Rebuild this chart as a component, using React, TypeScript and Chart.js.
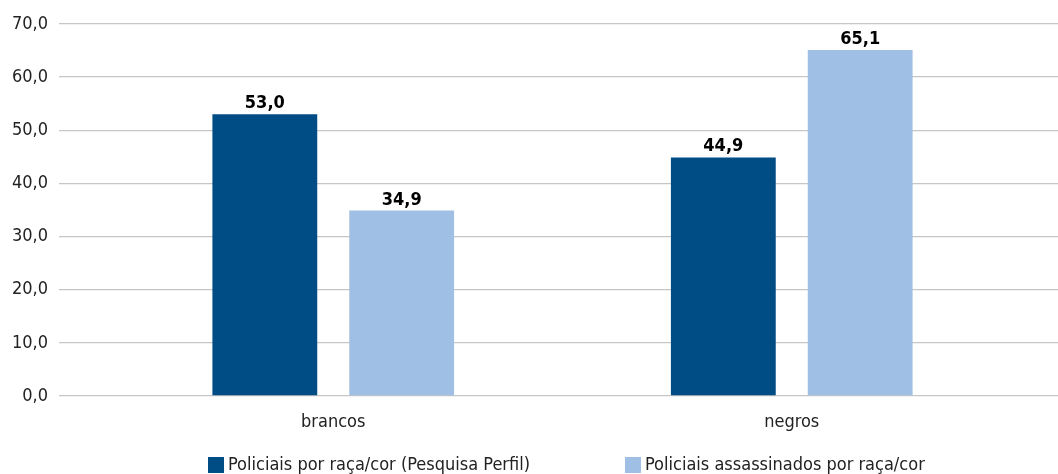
import React, { useEffect, useRef } from "react";
import { Chart, registerables } from "chart.js";

Chart.register(...registerables);

const categories = ["brancos", "negros"];
const seriesNames = [
  "Policiais por raça/cor (Pesquisa Perfil)",
  "Policiais assassinados por raça/cor",
];
const perfilValues = [53.0, 44.9];
const assassinadosValues = [34.9, 65.1];
const yTickValues = [0, 10, 20, 30, 40, 50, 60, 70];

const FONT = "'DejaVu Sans Condensed', 'Liberation Sans', sans-serif";
const DARK = "#004D85";
const LIGHT = "#A0BFE4";
const GRID = "#C6C6C6";
const TEXT = "#222222";

const fmt = (v: number) => v.toFixed(1).replace(".", ",");

const valueLabels = {
  id: "valueLabels",
  afterDatasetsDraw(chart: any) {
    const ctx = chart.ctx;
    ctx.save();
    ctx.font = `bold 18px ${FONT}`;
    ctx.fillStyle = "#000000";
    ctx.textAlign = "center";
    ctx.textBaseline = "alphabetic";
    chart.data.datasets.forEach((ds: any, di: number) => {
      const meta = chart.getDatasetMeta(di);
      meta.data.forEach((bar: any, i: number) => {
        ctx.fillText(fmt(ds.data[i]), bar.x, bar.y - 6);
      });
    });
    ctx.restore();
  },
};

const customLegend = {
  id: "customLegend",
  afterDraw(chart: any) {
    const ctx = chart.ctx;
    const xs = [208, 625];
    const boxTop = chart.height - 17;
    ctx.save();
    ctx.font = `18px ${FONT}`;
    ctx.textBaseline = "middle";
    ctx.textAlign = "left";
    chart.data.datasets.forEach((ds: any, i: number) => {
      ctx.fillStyle = ds.backgroundColor;
      ctx.fillRect(xs[i], boxTop, 16, 16);
      ctx.fillStyle = TEXT;
      ctx.fillText(ds.label, xs[i] + 20, boxTop + 8);
    });
    ctx.restore();
  },
};

export default function App() {
  const ref = useRef<HTMLCanvasElement | null>(null);

  useEffect(() => {
    if (!ref.current) return;
    const chart = new Chart(ref.current, {
      type: "bar",
      data: {
        labels: categories,
        datasets: [
          {
            label: seriesNames[0],
            data: perfilValues,
            backgroundColor: DARK,
            categoryPercentage: 0.597,
            barPercentage: 0.766,
          },
          {
            label: seriesNames[1],
            data: assassinadosValues,
            backgroundColor: LIGHT,
            categoryPercentage: 0.597,
            barPercentage: 0.766,
          },
        ],
      },
      options: {
        responsive: false,
        animation: false,
        layout: { padding: { top: 24, bottom: 42, left: 0, right: 0 } },
        plugins: {
          legend: { display: false },
          tooltip: { enabled: false },
        },
        scales: {
          x: {
            grid: { display: false, drawTicks: false },
            border: { display: false },
            afterFit: (s: any) => {
              s.height = 36;
            },
            ticks: {
              color: TEXT,
              font: { family: FONT, size: 18 },
              padding: 16,
            },
          },
          y: {
            position: "left",
            min: 0,
            max: 70,
            afterBuildTicks: (s: any) => {
              s.ticks = yTickValues.map((v) => ({ value: v }));
            },
            afterFit: (s: any) => {
              s.width = 104;
            },
            grid: { color: GRID, lineWidth: 1.3, tickLength: 45, drawTicks: true },
            border: { display: false },
            ticks: {
              color: TEXT,
              font: { family: FONT, size: 18 },
              padding: 11,
              callback: (v: any) => fmt(Number(v)),
            },
          },
          y2: {
            position: "right",
            min: 0,
            max: 70,
            afterBuildTicks: (s: any) => {
              s.ticks = yTickValues.map((v) => ({ value: v }));
            },
            afterFit: (s: any) => {
              s.width = 37;
            },
            grid: { color: GRID, lineWidth: 1.3, tickLength: 37, drawTicks: true, drawOnChartArea: false },
            border: { display: false },
            ticks: { display: false },
          },
        },
      },
      plugins: [valueLabels, customLegend],
    } as any);
    return () => chart.destroy();
  }, []);

  return (
    <div style={{ position: "fixed", left: 0, top: 0, width: 1058, height: 474, background: "#fff" }}>
      <canvas ref={ref} width={1058} height={474} style={{ display: "block" }} />
    </div>
  );
}
